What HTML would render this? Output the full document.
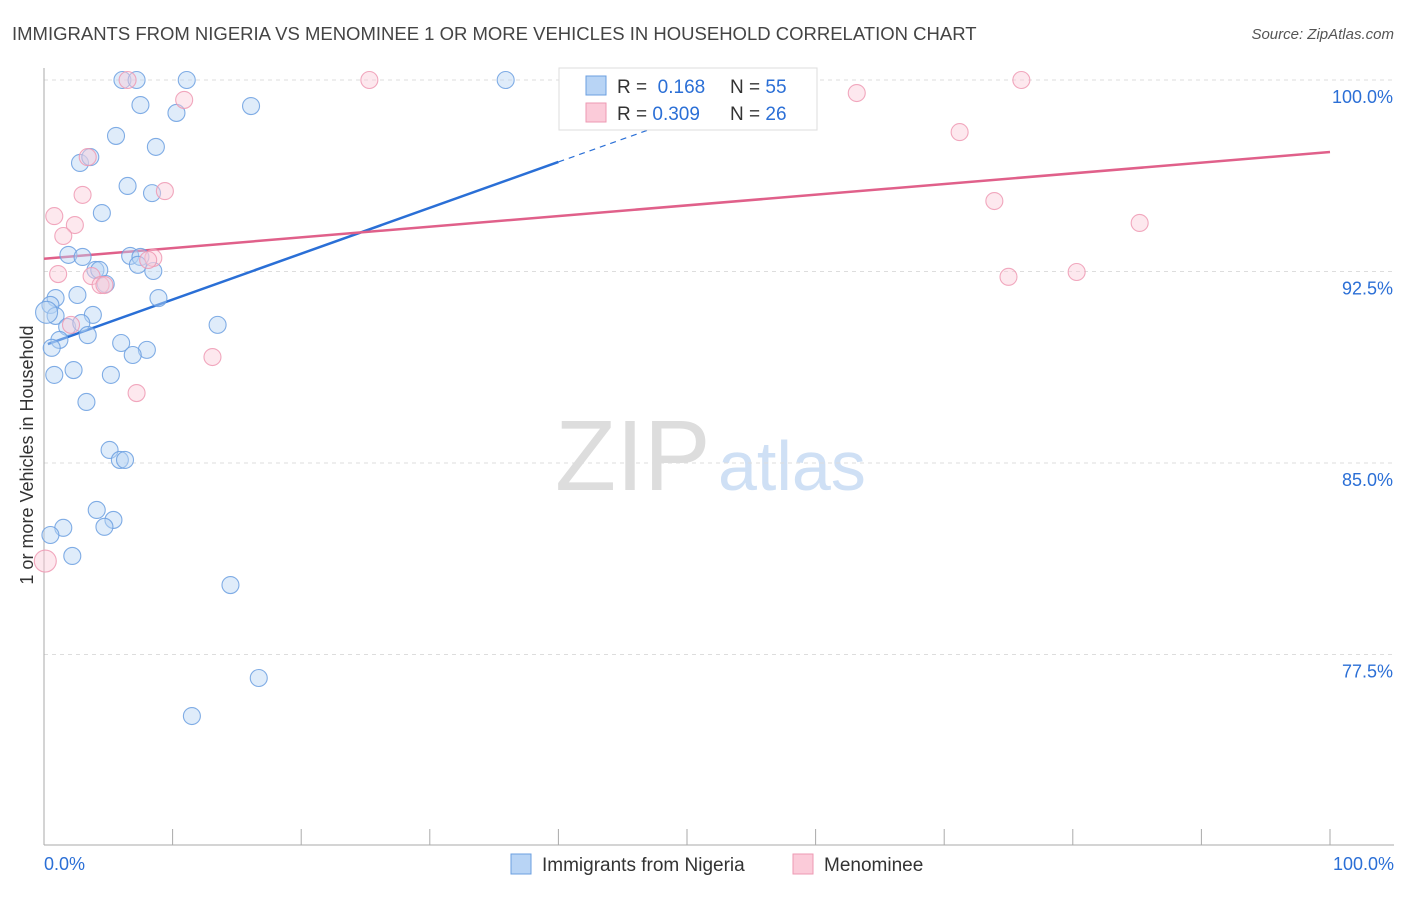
<!DOCTYPE html>
<html><head><meta charset="utf-8"><style>
body{margin:0;background:#fff;font-family:"Liberation Sans",sans-serif}
svg text{font-family:"Liberation Sans",sans-serif}
</style></head><body>
<svg id="chart" width="1406" height="892">
<text x="12" y="40" font-size="18.5" fill="#444">IMMIGRANTS FROM NIGERIA VS MENOMINEE 1 OR MORE VEHICLES IN HOUSEHOLD CORRELATION CHART</text>
<text x="1394" y="39" font-size="15" fill="#555" text-anchor="end" font-style="italic">Source: ZipAtlas.com</text>
<text transform="translate(33,455) rotate(-90)" font-size="18" fill="#333" text-anchor="middle">1 or more Vehicles in Household</text>
<g><text x="555" y="490" font-size="100" fill="#ddd" font-family="Liberation Serif,serif">ZIP</text><text x="718" y="490" font-size="70" fill="#cfe0f5">atlas</text></g>
<g id="grid"></g><g id="axes"></g><g id="lines"></g><g id="pts"></g>
<g>
<rect x="559" y="68" width="258" height="62" fill="#fff" stroke="#ddd"/>
<rect x="586" y="76" width="20" height="19" fill="#b8d4f5" stroke="#6b9fe0"/>
<rect x="586" y="103" width="20" height="19" fill="#fbcbd9" stroke="#ee99b3"/>
<text x="617" y="93" font-size="19" fill="#333">R = <tspan fill="#2b6fd6">&#160;0.168</tspan></text>
<text x="730" y="93" font-size="19" fill="#333">N = <tspan fill="#2b6fd6">55</tspan></text>
<text x="617" y="120" font-size="19" fill="#333">R = <tspan fill="#2b6fd6">0.309</tspan></text>
<text x="730" y="120" font-size="19" fill="#333">N = <tspan fill="#2b6fd6">26</tspan></text>
</g>
<g>
<rect x="511" y="854" width="20" height="20" fill="#b8d4f5" stroke="#6b9fe0"/>
<text x="542" y="871" font-size="19" fill="#333">Immigrants from Nigeria</text>
<rect x="793" y="854" width="20" height="20" fill="#fbcbd9" stroke="#ee99b3"/>
<text x="824" y="871" font-size="19" fill="#333">Menominee</text>
</g>
</svg>
<script>
const blueX=[6.1,7.2,11.1,35.9,7.5,16.1,10.3,5.6,8.7,2.8,3.6,6.5,8.4,4.5,1.9,3.0,6.7,7.5,7.3,8.5,4.0,4.3,4.8,2.6,0.9,8.9,0.5,0.9,3.8,13.5,1.8,2.9,3.4,1.2,6.0,8.0,0.6,6.9,2.3,0.8,5.2,3.3,5.1,5.9,6.3,4.1,5.4,4.7,1.5,0.5,2.2,14.5,16.7,11.5,0.2];
const blueY=[100,100,100,100,99.02,98.98,98.71,97.81,97.38,96.75,96.98,95.85,95.57,94.79,93.15,93.07,93.11,93.07,92.76,92.52,92.56,92.56,92.01,91.58,91.46,91.46,91.19,90.76,90.80,90.41,90.33,90.48,90.01,89.82,89.70,89.43,89.51,89.23,88.64,88.45,88.45,87.39,85.51,85.12,85.12,83.16,82.77,82.50,82.46,82.18,81.36,80.22,76.58,75.09,90.9];
const pinkX=[6.5,25.3,76.0,10.9,63.2,71.2,3.4,9.4,3.0,0.8,2.4,1.5,73.9,85.2,8.5,8.1,1.1,3.7,4.4,4.7,80.3,75.0,2.1,13.1,7.2,0.1];
const pinkY=[100,100,100,99.22,99.49,97.96,96.98,95.65,95.50,94.67,94.32,93.89,95.26,94.40,93.03,92.95,92.40,92.32,91.97,91.97,92.48,92.29,90.41,89.15,87.74,81.16];
const yTicks=[100,92.5,85,77.5];
const yTickLabels=["100.0%","92.5%","85.0%","77.5%"];
const blueTrend=[0.3,89.66,40,96.79,50,98.58];
const pinkTrend=[0,93.0,100,97.18];
const NS="http://www.w3.org/2000/svg";
const X=v=>44+v*12.86, Y=v=>80+(100-v)/7.5*191.5;
function mk(tag,at,parent){const e=document.createElementNS(NS,tag);for(const k in at)e.setAttribute(k,at[k]);document.getElementById(parent).appendChild(e);return e;}
yTicks.forEach((t,i)=>{
 const g=mk('line',{x1:44,x2:1394,y1:Y(t),y2:Y(t),stroke:'#ddd','stroke-dasharray':'4,4'},'grid');
 
 
 const l=mk('text',{x:1393,y:Y(t)+23,'font-size':18,fill:'#2b6fd6','text-anchor':'end'},'axes');l.textContent=yTickLabels[i];
 
 
});
const ya=mk('line',{x1:44,x2:44,y1:68,y2:845,stroke:'#aaa'},'axes');


const xa=mk('line',{x1:44,x2:1394,y1:845,y2:845,stroke:'#aaa'},'axes');


for(let i=1;i<=10;i++){const t=mk('line',{x1:X(i*10),x2:X(i*10),y1:829,y2:845,stroke:'#aaa'},'axes');
 
 }
const x0=mk('text',{x:44,y:870,'font-size':18,fill:'#2b6fd6'},'axes');x0.textContent='0.0%';


const x1=mk('text',{x:1394,y:870,'font-size':18,fill:'#2b6fd6','text-anchor':'end'},'axes');x1.textContent='100.0%';


function pts(xs,ys,fill,stroke,name){xs.forEach((x,i)=>{
 const big=(x<0.3);
 const c=mk('circle',{cx:X(x),cy:Y(ys[i]),r:big?11:8.5,fill:fill,'fill-opacity':0.45,stroke:stroke,'stroke-width':1.1,'stroke-opacity':0.85},'pts');
 
 });}
pts(blueX,blueY,'#b8d4f5','#6b9fe0','nigeria-point');
pts(pinkX,pinkY,'#fbcbd9','#ee99b3','menominee-point');
const bl=mk('line',{x1:X(blueTrend[0]),y1:Y(blueTrend[1]),x2:X(blueTrend[2]),y2:Y(blueTrend[3]),stroke:'#2a6fd6','stroke-width':2.5},'lines');


const bd=mk('line',{x1:X(blueTrend[2]),y1:Y(blueTrend[3]),x2:X(blueTrend[4]),y2:Y(blueTrend[5]),stroke:'#2a6fd6','stroke-width':1.2,'stroke-dasharray':'6,5'},'lines');


const pl=mk('line',{x1:X(pinkTrend[0]),y1:Y(pinkTrend[1]),x2:X(pinkTrend[2]),y2:Y(pinkTrend[3]),stroke:'#e0608a','stroke-width':2.5},'lines');


</script>
</body></html>
